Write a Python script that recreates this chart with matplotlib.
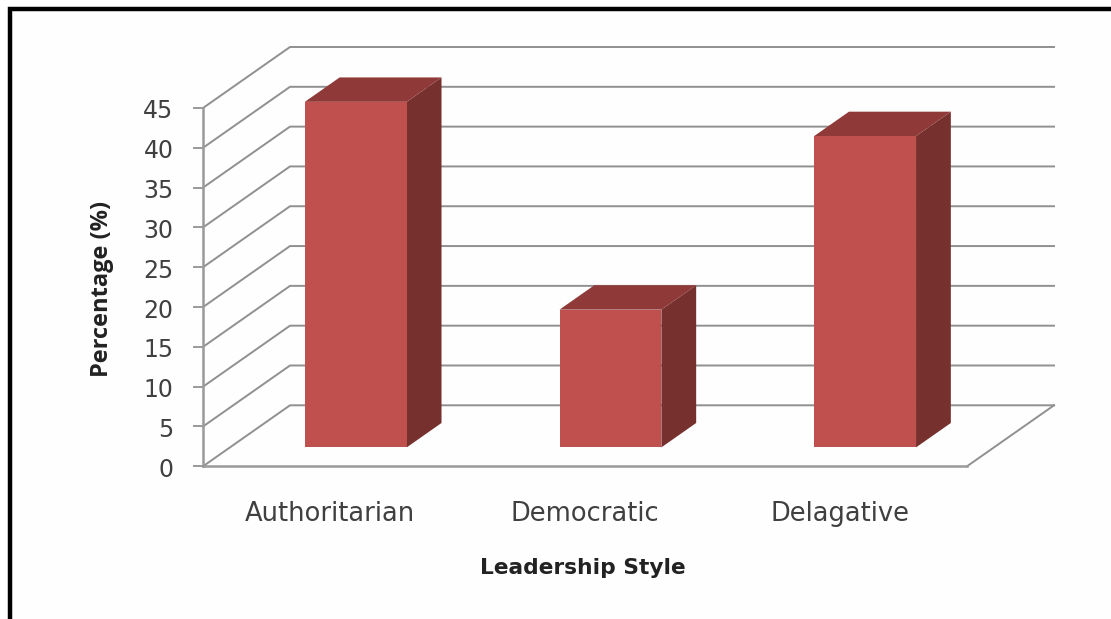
import matplotlib
matplotlib.use("Agg")
import matplotlib.pyplot as plt
from matplotlib.lines import Line2D
from matplotlib.patches import Polygon
from matplotlib.transforms import ScaledTranslation

plt.rcParams['font.family'] = ['DejaVu Sans']

categories = ['Authoritarian', 'Democratic', 'Delagative']
percentages = [43.4, 17.3, 39.1]
y_ticks = [0, 5, 10, 15, 20, 25, 30, 35, 40, 45]

W, H = 1111, 619
fig = plt.figure(figsize=(W / 100, H / 100), dpi=100, facecolor='#fefefe')
ax = fig.add_axes([203 / W, (H - 466.3) / H, 764 / W, 358.3 / H], facecolor='none')
ax.set_xlim(0, 3)
ax.set_ylim(0, 45)

GRID = '#909090'
AXIS = '#9a9a9a'
TEXT = '#404040'
# oblique depth of the chart box, in data units
DX = 87 / 764 * 3
DY = 61 / (358.3 / 45)


def proj(x, y, d):
    return (x + d * DX, y + d * DY)


# back wall gridlines and side wall diagonals
for t in y_ticks:
    p0, p1, p2 = proj(0, t, 0), proj(0, t, 1), proj(3, t, 1)
    ax.plot([p0[0], p1[0], p2[0]], [p0[1], p1[1], p2[1]], color=GRID, lw=1.4,
            clip_on=False, zorder=1, solid_joinstyle='miter')
# floor right edge
p0, p1 = proj(3, 0, 0), proj(3, 0, 1)
ax.plot([p0[0], p1[0]], [p0[1], p1[1]], color=GRID, lw=1.4, clip_on=False, zorder=1)

# 3D bars
BAR_W = 0.4
D0, D1 = 0.31, 0.71
for i, v in enumerate(percentages):
    c = i + 0.494
    xl, xr = c - BAR_W / 2, c + BAR_W / 2
    front = [proj(xl, 0, D0), proj(xr, 0, D0), proj(xr, v, D0), proj(xl, v, D0)]
    top = [proj(xl, v, D0), proj(xr, v, D0), proj(xr, v, D1), proj(xl, v, D1)]
    side = [proj(xr, 0, D0), proj(xr, 0, D1), proj(xr, v, D1), proj(xr, v, D0)]
    ax.add_patch(Polygon(side, closed=True, fc='#76302E', ec='none', clip_on=False, zorder=3))
    ax.add_patch(Polygon(top, closed=True, fc='#8F3A38', ec='none', clip_on=False, zorder=3))
    ax.add_patch(Polygon(front, closed=True, fc='#C0504D', ec='none', clip_on=False, zorder=4))

# axes
for s in ['top', 'right']:
    ax.spines[s].set_visible(False)
for s in ['left', 'bottom']:
    ax.spines[s].set_color(AXIS)
    ax.spines[s].set_linewidth(1.8)
ax.set_yticks(y_ticks)
ax.set_xticks([i + 0.5 for i in range(len(categories))])
ax.set_xticklabels(categories)
ax.tick_params(axis='y', length=7.2, width=1.4, color=AXIS, pad=14,
               labelsize=17, labelcolor=TEXT)
ax.tick_params(axis='x', length=0, pad=25, labelsize=18.5, labelcolor=TEXT)
shift = ScaledTranslation(0, -1 / 100, fig.dpi_scale_trans)
for lab in ax.get_yticklabels():
    lab.set_transform(lab.get_transform() + shift)

ax.set_xlabel('Leadership Style', fontsize=15.7, fontweight='bold', color='#222222')
ax.xaxis.set_label_coords((583 - 203) / 764, (466.3 - 568) / 358.3)
ax.xaxis.label.set_verticalalignment('center')
ax.set_ylabel('Percentage (%)', fontsize=17, fontweight='bold', color='#222222',
              fontfamily='Open Sans')
ax.yaxis.set_label_coords((102 - 203) / 764, (466.3 - 289) / 358.3)
ax.yaxis.label.set_verticalalignment('center')

# black frame along top and left of the picture
fig.add_artist(Line2D([10 / W, 10 / W, 1], [0, (H - 9) / H, (H - 9) / H], color='black',
                      lw=3.2, solid_joinstyle='miter', solid_capstyle='butt'))

fig.savefig('out.png', dpi=100, facecolor=fig.get_facecolor())
